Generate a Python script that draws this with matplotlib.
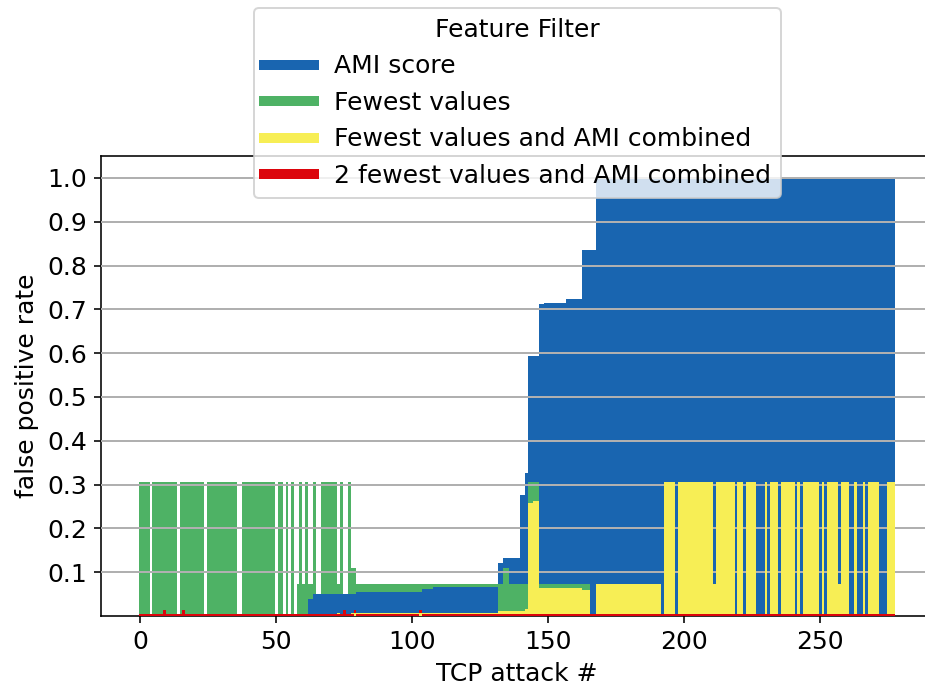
import numpy as np
import matplotlib
matplotlib.use('Agg')
import matplotlib.pyplot as plt
from matplotlib.lines import Line2D

# number of TCP attacks (bars 0..277)
n_attacks = 278

# runs of (first attack, last attack, false positive rate)
ami_runs = [(61, 61, 0.004), (62, 63, 0.038), (64, 79, 0.051), (80, 103, 0.054),
            (104, 107, 0.061), (108, 131, 0.066), (132, 133, 0.121), (134, 139, 0.132),
            (140, 141, 0.276), (142, 142, 0.326), (143, 146, 0.593), (147, 148, 0.712),
            (149, 156, 0.714), (157, 162, 0.723), (163, 167, 0.836), (168, 277, 1.0)]

fewest_runs = [(0, 3, 0.305), (5, 13, 0.305), (15, 23, 0.305), (25, 35, 0.305),
               (38, 49, 0.305), (51, 52, 0.305), (54, 54, 0.305), (56, 56, 0.305),
               (58, 58, 0.073), (59, 59, 0.305), (60, 60, 0.073), (61, 61, 0.305),
               (62, 63, 0.073), (64, 64, 0.305), (67, 72, 0.305), (73, 73, 0.073),
               (74, 74, 0.305), (77, 77, 0.305), (78, 79, 0.109), (80, 133, 0.073),
               (134, 135, 0.109), (136, 142, 0.073), (143, 146, 0.305), (147, 165, 0.073)]

combined_runs = [(73, 73, 0.006), (78, 131, 0.006), (132, 141, 0.011), (142, 142, 0.016),
                 (143, 144, 0.258), (145, 146, 0.262), (147, 162, 0.063), (163, 165, 0.059),
                 (168, 191, 0.073), (193, 196, 0.305), (198, 210, 0.305), (211, 211, 0.073),
                 (212, 218, 0.305), (220, 221, 0.305), (223, 226, 0.305), (230, 230, 0.305),
                 (232, 234, 0.305), (236, 240, 0.305), (242, 242, 0.305), (244, 249, 0.305),
                 (251, 251, 0.305), (253, 256, 0.305), (257, 257, 0.073), (258, 260, 0.305),
                 (263, 263, 0.305), (266, 266, 0.305), (268, 271, 0.305), (275, 277, 0.305)]

combined2_runs = [(0, 277, 0.005), (9, 9, 0.013), (16, 16, 0.013), (75, 75, 0.013),
                  (79, 79, 0.013), (103, 103, 0.013)]

labels = ['AMI score', 'Fewest values', 'Fewest values and AMI combined',
          '2 fewest values and AMI combined']
colors = ['#1965B0', '#4EB265', '#F7EE55', '#DC050C']


def expand(runs):
    vals = np.zeros(n_attacks)
    for a, b, v in runs:
        vals[a:b + 1] = v
    return vals


series = [expand(ami_runs), expand(fewest_runs), expand(combined_runs), expand(combined2_runs)]
x = np.arange(n_attacks)

plt.rcParams['font.size'] = 12.5
fig = plt.figure(figsize=(925 / 144, 690 / 144), dpi=144)
ax = fig.add_axes([101 / 925, 74 / 690, 832 / 925, 460 / 690])

# shorter bars sit in front; yellow/red drawn above the grid
for i, (vals, c) in enumerate(zip(series, colors)):
    bars = ax.bar(x, vals, width=1.0, color=c, linewidth=0)
    base = 1.0 if i < 2 else 3.0
    for p, h in zip(bars.patches, vals):
        p.set_zorder(base + (1.1 - h) * 0.8)

ax.set_axisbelow(False)
ax.yaxis.grid(True, color='#b0b0b0', linewidth=1.0)
ax.set_ylim(0, 1.05)
ax.set_yticks(np.arange(1, 11) / 10)
ax.set_yticklabels(['%.1f' % v for v in np.arange(1, 11) / 10])
ax.set_xticks([0, 50, 100, 150, 200, 250])
ax.set_xlabel('TCP attack #')
ax.set_ylabel('false positive rate')

handles = [Line2D([0], [0], color=c, lw=5) for c in colors]
ax.legend(handles, labels, title='Feature Filter', loc='upper center',
          bbox_to_anchor=(0.5, 1.322), borderaxespad=0, title_fontsize=12.5)

fig.savefig('out.png', dpi=144)
